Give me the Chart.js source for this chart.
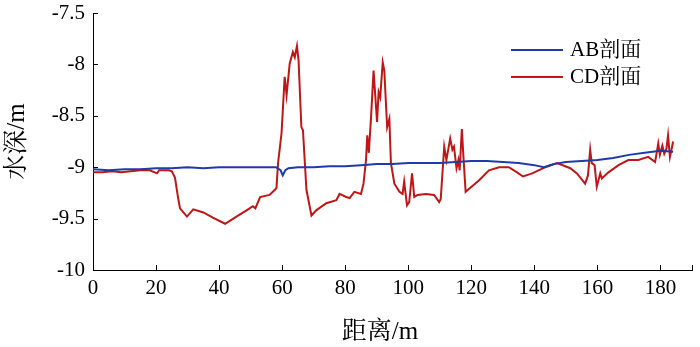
<!DOCTYPE html>
<html>
<head>
<meta charset="utf-8">
<script src="https://cdn.jsdelivr.net/npm/chart.js@4"></script>
<style>
  html, body { margin: 0; padding: 0; background: #fff; }
  #wrap { width: 700px; height: 347px; }
</style>
</head>
<body>
<div id="wrap"><canvas id="chart"></canvas></div>
<script>
// distance (m) and depth (m)
const abDist = [0, 5, 10, 15, 20, 25, 30, 35, 40, 45, 50, 55, 58, 59.5, 60.2, 61, 62, 65, 70, 75, 80, 85, 90, 95, 100, 105, 110, 115, 120, 125, 130, 135, 140, 143, 146, 150, 155, 160, 165, 170, 175, 180, 184];
const abDepth = [-9.02, -9.03, -9.02, -9.02, -9.01, -9.01, -9.00, -9.01, -9.00, -9.00, -9.00, -9.00, -9.00, -9.03, -9.08, -9.03, -9.01, -9.00, -9.00, -8.99, -8.99, -8.98, -8.97, -8.97, -8.96, -8.96, -8.96, -8.95, -8.94, -8.94, -8.95, -8.96, -8.98, -9.00, -8.97, -8.95, -8.94, -8.93, -8.91, -8.88, -8.86, -8.84, -8.85];

const cdDist = [0, 3, 6, 9, 12, 15, 18, 20.3, 21, 24, 25, 26, 27, 27.6, 29.8, 31.8, 35, 38, 41.9, 45.5, 48.7, 50.7, 51.5, 53, 56, 57.7, 58.2, 58.7, 59.8, 60.8, 61.4, 62.4, 63.4, 64, 64.7, 65.2, 66.1, 66.6, 67.7, 69.3, 70.8, 74, 77.2, 78.2, 80.3, 81.4, 82.9, 85, 85.8, 86.6, 87, 87.5, 88.2, 89, 90.1, 90.6, 91.1, 91.9, 92.4, 93.3, 94, 94.5, 95.6, 97.2, 98.2, 98.7, 99.6, 100.3, 101.2, 101.9, 102.9, 105.6, 108.2, 109.8, 110.3, 111.4, 112.1, 113.3, 114, 114.5, 115.3, 115.9, 116.3, 117, 117.5, 118.2, 119.3, 122.4, 125.6, 128.8, 131.9, 134.5, 136.4, 139.3, 143.5, 147.2, 151.4, 153.5, 156.1, 157, 157.7, 158.2, 159.1, 159.8, 160.9, 161.4, 163.5, 166.7, 169.8, 173, 176.1, 178.3, 179.3, 179.8, 180.6, 181.2, 181.9, 182.4, 183, 183.5, 184];
const cdDepth = [-9.05, -9.05, -9.04, -9.05, -9.04, -9.03, -9.03, -9.06, -9.03, -9.03, -9.04, -9.10, -9.30, -9.40, -9.48, -9.41, -9.44, -9.49, -9.55, -9.48, -9.42, -9.38, -9.40, -9.29, -9.27, -9.22, -9.20, -8.96, -8.67, -8.12, -8.30, -7.99, -7.88, -7.93, -7.82, -7.96, -8.61, -8.64, -9.22, -9.47, -9.42, -9.35, -9.32, -9.26, -9.29, -9.30, -9.24, -9.26, -9.16, -8.93, -8.69, -8.86, -8.51, -8.06, -8.56, -8.27, -8.32, -7.98, -8.06, -8.61, -8.53, -8.96, -9.16, -9.24, -9.26, -9.14, -9.37, -9.34, -9.06, -9.29, -9.27, -9.26, -9.27, -9.34, -9.31, -8.80, -8.93, -8.72, -8.83, -8.80, -9.01, -8.93, -9.03, -8.63, -8.90, -9.24, -9.21, -9.13, -9.03, -9.00, -9.00, -9.05, -9.09, -9.06, -9.00, -8.96, -9.01, -9.06, -9.16, -9.08, -8.83, -8.96, -8.98, -9.19, -9.06, -9.11, -9.05, -8.98, -8.93, -8.93, -8.90, -8.95, -8.77, -8.88, -8.79, -8.87, -8.82, -8.69, -8.90, -8.83, -8.75];

const seriesNames = ['AB剖面', 'CD剖面'];
const xTicks = [0, 20, 40, 60, 80, 100, 120, 140, 160, 180, 190];
const serif = "'Liberation Serif', 'Times New Roman', 'Noto Serif CJK SC', 'Noto Sans CJK SC', serif";

// ticks pointing inward, like the original
const innerTicks = {
    id: 'innerTicks',
    afterDraw(chart) {
        const ctx = chart.ctx;
        const x = chart.scales.x, y = chart.scales.y;
        const area = chart.chartArea;
        ctx.save();
        ctx.strokeStyle = '#000';
        ctx.lineWidth = 1;
        ctx.beginPath();
        x.ticks.forEach(t => {
            const px = Math.round(x.getPixelForValue(t.value)) + 0.5;
            ctx.moveTo(px, area.bottom);
            ctx.lineTo(px, area.bottom - 5);
        });
        y.ticks.forEach(t => {
            const py = Math.round(y.getPixelForValue(t.value)) + 0.5;
            ctx.moveTo(area.left, py);
            ctx.lineTo(area.left + 5, py);
        });
        ctx.stroke();
        ctx.restore();
    }
};

// legend inside the plot, top right, no box
const innerLegend = {
    id: 'innerLegend',
    afterDraw(chart) {
        const ctx = chart.ctx;
        ctx.save();
        ctx.font = '21px ' + serif;
        ctx.textBaseline = 'middle';
        chart.data.datasets.forEach((ds, i) => {
            const yy = 50 + i * 27;
            ctx.strokeStyle = ds.borderColor;
            ctx.lineWidth = 2;
            ctx.beginPath();
            ctx.moveTo(511, yy);
            ctx.lineTo(563, yy);
            ctx.stroke();
            ctx.fillStyle = '#000';
            ctx.fillText(ds.label, 570, yy);
        });
        ctx.restore();
    }
};

new Chart(document.getElementById('chart').getContext('2d'), {
    type: 'line',
    data: {
        datasets: [
            {
                label: seriesNames[0],
                data: abDist.map((d, i) => ({x: d, y: abDepth[i]})),
                borderColor: 'rgb(32, 58, 170)',
                borderWidth: 2,
                pointRadius: 0,
                tension: 0
            },
            {
                label: seriesNames[1],
                data: cdDist.map((d, i) => ({x: d, y: cdDepth[i]})),
                borderColor: 'rgb(192, 22, 22)',
                borderWidth: 2,
                pointRadius: 0,
                tension: 0
            }
        ]
    },
    options: {
        responsive: true,
        maintainAspectRatio: false,
        animation: false,
        layout: { padding: { left: 0, right: 8, top: 13, bottom: 0 } },
        plugins: {
            legend: { display: false },
            tooltip: { enabled: false }
        },
        scales: {
            x: {
                type: 'linear',
                min: 0,
                max: 190,
                grid: { display: false, drawTicks: false },
                border: { display: true, color: '#000', width: 1 },
                afterBuildTicks: s => { s.ticks = xTicks.map(v => ({value: v})); },
                ticks: {
                    autoSkip: false,
                    maxRotation: 0,
                    color: '#000',
                    padding: 6,
                    font: { family: serif, size: 21 },
                    callback: v => (v === 190 ? '' : String(v))
                },
                title: {
                    display: true,
                    text: '距离/m\u2003',
                    color: '#000',
                    font: { family: serif, size: 25, lineHeight: 1 },
                    padding: { top: 0, bottom: 2 }
                },
                afterFit: s => { s.height = 77; s.paddingLeft = 0; s.paddingRight = 0; }
            },
            y: {
                min: -10,
                max: -7.5,
                grid: { display: false, drawTicks: false },
                border: { display: true, color: '#000', width: 1 },
                ticks: {
                    stepSize: 0.5,
                    color: '#000',
                    padding: 8,
                    font: { family: serif, size: 21 },
                    callback: v => String(v)
                },
                title: {
                    display: true,
                    text: '水深/m',
                    color: '#000',
                    font: { family: serif, size: 25, lineHeight: 1 },
                    padding: { top: 5, bottom: 0 }
                },
                afterFit: s => { s.width = 93; s.paddingTop = 0; s.paddingBottom = 0; }
            }
        }
    },
    plugins: [innerTicks, innerLegend]
});
</script>
</body>
</html>
